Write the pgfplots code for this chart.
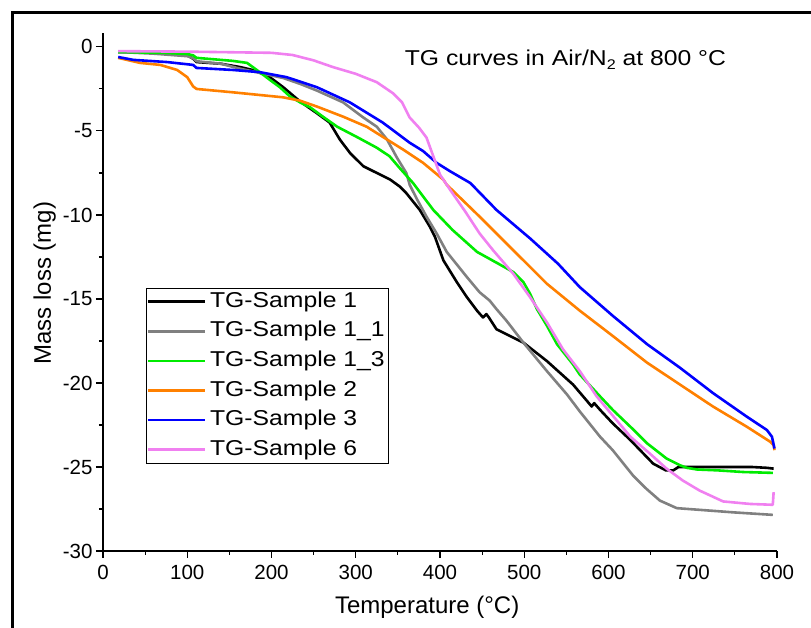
\documentclass[border=0pt]{standalone}
\usepackage{fontspec}
\setmainfont{Liberation Sans}
\newfontfamily\widefont[FakeStretch=1.15]{Liberation Sans}
\usepackage{pgfplots}
\pgfplotsset{compat=1.18}
\definecolor{cgray}{RGB}{128,128,128}
\definecolor{cgreen}{RGB}{0,235,0}
\definecolor{corange}{RGB}{255,128,0}
\definecolor{cblue}{RGB}{0,0,255}
\definecolor{cpink}{RGB}{240,128,240}
\begin{document}
\begin{tikzpicture}[x=1pt,y=1pt]
\useasboundingbox (0,0) rectangle (811,628);
\draw[line width=3pt] (12,-10) -- (12,615) -- (830,615);
\begin{axis}[
  at={(103pt,77pt)}, anchor=south west,
  scale only axis, width=674pt, height=518pt,
  xmin=0, xmax=800, ymin=-30, ymax=0.83,
  axis x line*=bottom, axis y line*=left,
  axis line style={-, line width=1.1pt},
  xtick={0,100,...,800}, ytick={-30,-25,...,0},
  minor x tick num=1, minor y tick num=1,
  tick align=outside,
  major tick length=7pt, minor tick length=4pt,
  every tick/.style={line width=1.1pt, black},
  /pgf/number format/assume math mode=true,
  tick label style={font=\fontsize{20.5}{21}\selectfont},
  xticklabel style={yshift=-4pt},
  xlabel={Temperature (°C)}, ylabel={Mass loss (mg)},
  label style={font=\fontsize{24}{26}\selectfont},
  xlabel style={at={(axis description cs:0.481,0)}, anchor=north, yshift=-45pt, inner sep=0pt},
  ylabel style={at={(axis description cs:0,0.517)}, anchor=south, yshift=47pt, inner sep=0pt},
  legend cell align=left,
  legend image code/.code={\draw[#1] (0pt,0pt) -- (57pt,0pt);},
  legend style={at={(0.064,0.508)}, anchor=north west, draw=black, line width=0.8pt,
    font=\widefont\fontsize{21.5}{25}\selectfont,
    inner xsep=0pt, inner ysep=3pt, row sep=8.6pt,
    nodes={inner xsep=4pt, inner ysep=0pt, text height=16pt, text depth=5pt}},
  every axis plot/.append style={line width=2.6pt, line join=round},
]
% TG-Sample 1
\addplot[black] coordinates {
(18,-0.3) (60,-0.35) (100,-0.5) (107,-0.7) (111,-0.9) (140,-1.0) (163,-1.2) (180,-1.4)
(198,-1.8) (214,-2.4) (234,-3.25) (254,-3.95) (269,-4.5) (281,-5.5) (293,-6.3) (309,-7.1)
(325,-7.5) (341,-7.9) (352,-8.3) (360,-8.7) (376,-9.7) (388,-10.7) (394,-11.3) (404,-12.7)
(420,-14.0) (432,-14.9) (444,-15.7) (451,-16.1) (455,-15.9) (458,-16.1) (467,-16.8) (487,-17.3)
(499,-17.6) (527,-18.7) (558,-20.1) (575,-21.1) (580,-21.4) (583,-21.2) (590,-21.6) (605,-22.4)
(626,-23.4) (653,-24.8) (668,-25.2) (677,-25.2) (683,-25.0) (708,-25.0) (740,-25.0) (770,-25.0)
(788,-25.05) (796,-25.1)};
\addlegendentry{TG-Sample 1}
% TG-Sample 1_1
\addplot[cgray] coordinates {
(18,-0.3) (60,-0.4) (100,-0.55) (107,-0.67) (111,-0.85) (140,-1.0) (163,-1.3) (182,-1.5)
(200,-1.7) (214,-1.85) (234,-2.2) (254,-2.6) (285,-3.3) (309,-4.2) (325,-4.75) (337,-5.5)
(349,-6.6) (360,-7.5) (364,-8.2) (372,-9.0) (384,-10.1) (396,-11.1) (408,-12.2) (432,-13.7)
(447,-14.6) (459,-15.1) (467,-15.6) (479,-16.3) (499,-17.6) (527,-19.3) (551,-20.7) (566,-21.7)
(590,-23.2) (605,-24.0) (629,-25.5) (645,-26.3) (661,-27.0) (681,-27.45) (708,-27.55) (748,-27.7)
(795,-27.85)};
\addlegendentry{TG-Sample 1\_1}
% TG-Sample 1_3
\addplot[cgreen] coordinates {
(18,-0.3) (76,-0.36) (100,-0.42) (107,-0.5) (111,-0.65) (154,-0.83) (171,-0.95) (186,-1.5)
(198,-1.96) (210,-2.4) (222,-2.95) (234,-3.3) (246,-3.6) (261,-4.15) (278,-4.75) (301,-5.35)
(325,-6.0) (340,-6.5) (352,-7.2) (368,-8.1) (392,-9.7) (415,-10.9) (444,-12.2) (471,-12.95)
(487,-13.4) (499,-14.0) (507,-14.7) (515,-15.6) (527,-16.6) (539,-17.7) (558,-18.9) (566,-19.5)
(590,-20.8) (605,-21.6) (630,-22.8) (646,-23.6) (669,-24.5) (685,-24.9) (693,-25.05) (705,-25.15)
(729,-25.2) (760,-25.3) (795,-25.35)};
\addlegendentry{TG-Sample 1\_3}
% TG-Sample 2
\addplot[corange] coordinates {
(18,-0.65) (44,-0.95) (68,-1.07) (88,-1.37) (100,-1.8) (107,-2.35) (111,-2.5) (154,-2.7)
(194,-2.9) (214,-3.0) (234,-3.2) (254,-3.55) (285,-4.15) (313,-4.75) (332,-5.35) (356,-6.1)
(380,-6.9) (404,-7.9) (408,-8.2) (447,-10.1) (487,-12.1) (527,-14.1) (566,-15.7) (605,-17.2)
(646,-18.8) (685,-20.1) (724,-21.4) (764,-22.6) (792,-23.5) (796,-23.7) (797,-24.0)};
\addlegendentry{TG-Sample 2}
% TG-Sample 3
\addplot[cblue] coordinates {
(18,-0.6) (36,-0.77) (76,-0.9) (107,-1.07) (111,-1.25) (154,-1.37) (186,-1.5) (218,-1.8)
(254,-2.4) (293,-3.3) (332,-4.5) (364,-5.7) (380,-6.2) (396,-6.9) (412,-7.4) (436,-8.1)
(467,-9.7) (507,-11.4) (540,-12.9) (566,-14.3) (605,-16.0) (646,-17.7) (685,-19.1) (724,-20.6)
(764,-22.0) (788,-22.8) (794,-23.2) (797,-23.9)};
\addlegendentry{TG-Sample 3}
% TG-Sample 6
\addplot[cpink] coordinates {
(18,-0.25) (100,-0.28) (200,-0.35) (225,-0.48) (250,-0.8) (273,-1.2) (300,-1.6) (325,-2.1)
(344,-2.75) (355,-3.3) (364,-4.2) (375,-4.8) (384,-5.4) (392,-6.5) (400,-7.6) (412,-8.5)
(430,-9.8) (447,-11.1) (463,-12.1) (487,-13.5) (507,-14.9) (527,-16.4) (546,-18.0) (566,-19.3)
(586,-20.8) (606,-22.0) (626,-23.2) (649,-24.2) (669,-25.1) (688,-25.8) (708,-26.4) (736,-27.05)
(768,-27.2) (795,-27.25) (796,-26.5)};
\addlegendentry{TG-Sample 6}
\node[anchor=west, inner sep=0pt, font=\widefont\fontsize{21.5}{24}\selectfont] at (axis cs:358,-0.77)
  {TG curves in Air/N\raisebox{-0.3ex}{\fontsize{14}{16}\selectfont 2} at 800 °C};
\end{axis}
\end{tikzpicture}
\end{document}
